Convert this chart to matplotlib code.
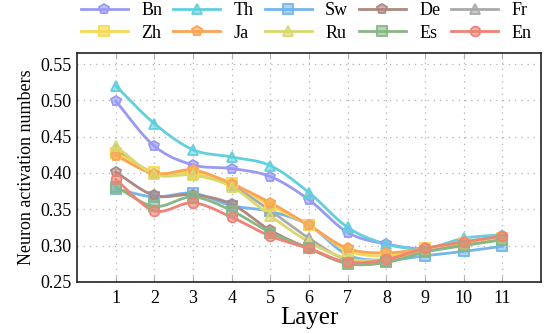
import numpy as np
import matplotlib
matplotlib.use("Agg")
import matplotlib.pyplot as plt

layers = list(range(1, 12))
langs = ["Bn", "Th", "Sw", "De", "Fr", "Zh", "Ja", "Ru", "Es", "En"]

bn = [0.499, 0.437, 0.411, 0.406, 0.395, 0.363, 0.318, 0.302, 0.296, 0.305, 0.313]
th = [0.520, 0.468, 0.432, 0.422, 0.410, 0.373, 0.325, 0.302, 0.296, 0.310, 0.315]
sw = [0.378, 0.367, 0.372, 0.355, 0.347, 0.328, 0.287, 0.280, 0.286, 0.292, 0.299]
de = [0.401, 0.369, 0.370, 0.357, 0.321, 0.296, 0.276, 0.277, 0.294, 0.302, 0.310]
fr = [0.432, 0.400, 0.399, 0.383, 0.348, 0.310, 0.280, 0.280, 0.294, 0.305, 0.311]
zh = [0.428, 0.401, 0.400, 0.386, 0.355, 0.328, 0.293, 0.286, 0.296, 0.304, 0.311]
ja = [0.424, 0.399, 0.404, 0.385, 0.359, 0.328, 0.296, 0.290, 0.296, 0.305, 0.312]
ru = [0.437, 0.398, 0.397, 0.381, 0.341, 0.305, 0.282, 0.281, 0.295, 0.305, 0.311]
es = [0.381, 0.354, 0.367, 0.348, 0.318, 0.296, 0.275, 0.277, 0.291, 0.300, 0.308]
en = [0.391, 0.348, 0.359, 0.339, 0.313, 0.296, 0.277, 0.281, 0.296, 0.305, 0.313]

series = [bn, th, sw, de, fr, zh, ja, ru, es, en]
colors = ["#9a9af5", "#62d0dc", "#74b6ea", "#ab8880", "#aaaaaa",
          "#fbd852", "#fba455", "#d8d86e", "#86b886", "#f08276"]
markers = ["p", "^", "s", "p", "^", "s", "p", "^", "s", "o"]


def smooth(x, y, n=20):
    # Catmull-Rom through the data points
    x = np.asarray(x, float)
    y = np.asarray(y, float)
    px = np.concatenate([[2 * x[0] - x[1]], x, [2 * x[-1] - x[-2]]])
    py = np.concatenate([[2 * y[0] - y[1]], y, [2 * y[-1] - y[-2]]])
    xs, ys = [], []
    t = np.linspace(0, 1, n, endpoint=False)
    for i in range(1, len(px) - 2):
        for p, out in ((px, xs), (py, ys)):
            p0, p1, p2, p3 = p[i - 1], p[i], p[i + 1], p[i + 2]
            out.append(0.5 * (2 * p1 + (-p0 + p2) * t
                              + (2 * p0 - 5 * p1 + 4 * p2 - p3) * t ** 2
                              + (-p0 + 3 * p1 - 3 * p2 + p3) * t ** 3))
    xs.append([x[-1]])
    ys.append([y[-1]])
    return np.concatenate(xs), np.concatenate(ys)


plt.rcParams["font.family"] = ["Liberation Serif", "DejaVu Serif"]

fig, ax = plt.subplots(figsize=(5.46, 3.34), dpi=100)
fig.subplots_adjust(left=0.141, right=0.991, top=0.841, bottom=0.156)

handles = {}
for name, vals, c, m in zip(langs, series, colors, markers):
    sx, sy = smooth(layers, vals)
    ax.plot(sx, sy, color=c, lw=2.0, zorder=2)
    ax.plot(layers, vals, ls="none", marker=m, ms=7, mfc=c + "99",
            mec=c, mew=1.3, zorder=3)
    handles[name], = ax.plot([], [], color=c, lw=2.0, marker=m, ms=7,
                             mfc=c + "99", mec=c, mew=1.3, label=name)

ax.set_xlim(0, 12)
ax.set_ylim(0.25, 0.565)
ax.set_xticks(layers)
yt = np.arange(0.25, 0.5501, 0.05)
ax.set_yticks(yt)
ax.set_yticklabels([f"{v:.2f}" for v in yt])
ax.grid(True, ls=(0, (1, 4)), color="#b0b0b0", lw=0.9)
ax.tick_params(axis="x", direction="in", top=True, length=4, color="#b0b0b0",
               labelsize=13, pad=6)
ax.tick_params(axis="y", length=0, labelsize=13, pad=4)
for s in ax.spines.values():
    s.set_linewidth(1.2)
    s.set_color("#222222")
ax.set_xlabel("Layer", fontsize=18, labelpad=0)
ax.set_ylabel("Neuron activation numbers", fontsize=13, labelpad=4)

# legend rows: first five on top, last five below (column-major fill)
order = [langs[i // 2 + 5 * (i % 2)] for i in range(10)]
fig.legend([handles[n] for n in order], order, loc="upper left",
           bbox_to_anchor=(0.135, 1.015), ncol=5, frameon=False, fontsize=13,
           handlelength=2.6, handletextpad=0.75, columnspacing=0.6,
           borderaxespad=0.0, labelspacing=0.3)

fig.savefig("out.png", dpi=100)
